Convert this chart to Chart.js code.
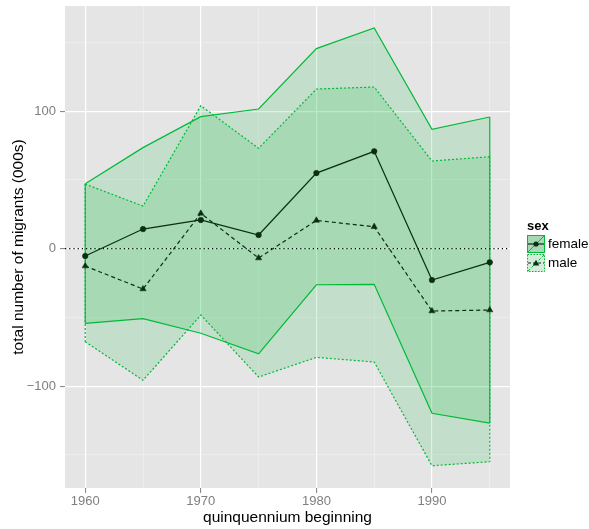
<!DOCTYPE html>
<html>
<head>
<meta charset="utf-8">
<script src="https://cdn.jsdelivr.net/npm/chart.js@4.4.1/dist/chart.umd.min.js"></script>
<style>
  html, body { margin:0; padding:0; background:#fff; }
  #c { display:block; }
</style>
</head>
<body>
<canvas id="c" width="589" height="529"></canvas>
<script>
const years = [1960, 1965, 1970, 1975, 1980, 1985, 1990, 1995];

const femaleMean  = [-5.3, 14.3, 20.9, 10.0, 55.0, 70.8, -22.8, -9.9];
const femaleUpper = [47.3, 73.5, 96.0, 101.6, 145.5, 160.5, 86.8, 95.8];
const femaleLower = [-54.3, -50.9, -61.5, -76.4, -26.2, -25.9, -119.7, -126.8];

const maleMean  = [-12.6, -29.3, 25.7, -6.8, 20.6, 16.0, -45.3, -44.6];
const maleUpper = [47.0, 31.0, 104.0, 73.0, 116.1, 117.6, 63.8, 66.9];
const maleLower = [-67.6, -95.7, -48.2, -93.3, -79.0, -82.4, -157.8, -154.9];

const xTicks = [1960, 1965, 1970, 1975, 1980, 1985, 1990, 1995];
const yTicks = [-150, -100, -50, 0, 50, 100, 150];
const xLimits = [1958.25, 1996.75];
const yLimits = [-174, 176.5];

const GREEN = "#00BA38";
const RIBBON = "rgba(0,186,56,0.15)";
const DARK = "#0a2e14";
const FONT = "'Liberation Sans', Arial, sans-serif";

const pts = (ys) => years.map((x, i) => ({ x, y: ys[i] }));
const edge = (i, up, lo) => [{ x: years[i], y: up[i] }, { x: years[i], y: lo[i] }];
const last = years.length - 1;

function bound(data, dash, fill) {
  return {
    data, borderColor: GREEN, borderWidth: 1.2, borderDash: dash,
    pointRadius: 0, tension: 0, fill: fill ? "+1" : false,
    backgroundColor: RIBBON, order: 10
  };
}
function edgeLine(data, dash) {
  return { data, borderColor: GREEN, borderWidth: 1.2, borderDash: dash, pointRadius: 0, fill: false, order: 9 };
}

const bgPlugin = {
  id: "panelBg",
  beforeDraw(chart) {
    const { ctx, chartArea: a } = chart;
    ctx.save();
    ctx.fillStyle = "#E5E5E5";
    ctx.fillRect(a.left, a.top, a.right - a.left, a.bottom - a.top);
    ctx.restore();
  }
};

const legendPlugin = {
  id: "sexLegend",
  afterDraw(chart) {
    const ctx = chart.ctx;
    ctx.save();
    ctx.fillStyle = "#000";
    ctx.font = "bold 13px " + FONT;
    ctx.textBaseline = "alphabetic";
    ctx.fillText("sex", 527, 230);
    const keys = [
      { label: "female", y: 235, fill: "#a6d8b3", dash: [], lineDash: [], shape: "circle" },
      { label: "male", y: 254, fill: "#d3ecd9", dash: [1.5, 1.5], lineDash: [3, 2], shape: "triangle" }
    ];
    keys.forEach(k => {
      const x = 527, s = 18, cy = k.y + s / 2;
      ctx.fillStyle = k.fill;
      ctx.fillRect(x, k.y, s, s);
      ctx.strokeStyle = GREEN;
      ctx.lineWidth = 1;
      ctx.setLineDash(k.dash);
      ctx.strokeRect(x + 0.5, k.y + 0.5, s - 1, s - 1);
      ctx.setLineDash(k.dash.length ? [3, 2] : []);
      ctx.beginPath();
      ctx.moveTo(x + 1, k.y + s - 1);
      ctx.lineTo(x + s - 1, k.y + 1);
      ctx.stroke();
      ctx.strokeStyle = DARK;
      ctx.lineWidth = 1.2;
      ctx.setLineDash(k.lineDash);
      ctx.beginPath();
      ctx.moveTo(x + 1, cy);
      ctx.lineTo(x + s - 1, cy);
      ctx.stroke();
      ctx.setLineDash([]);
      ctx.fillStyle = DARK;
      ctx.beginPath();
      if (k.shape === "circle") {
        ctx.arc(x + s / 2, cy, 2.6, 0, Math.PI * 2);
      } else {
        ctx.moveTo(x + s / 2, cy - 3.2);
        ctx.lineTo(x + s / 2 + 3.2, cy + 2.4);
        ctx.lineTo(x + s / 2 - 3.2, cy + 2.4);
        ctx.closePath();
      }
      ctx.fill();
      ctx.fillStyle = "#000";
      ctx.font = "13.5px " + FONT;
      ctx.textBaseline = "middle";
      ctx.fillText(k.label, 548, cy);
    });
    ctx.restore();
  }
};

const isMajorX = (v) => v % 10 === 0;
const isMajorY = (v) => v % 100 === 0;

new Chart(document.getElementById("c"), {
  type: "line",
  data: {
    datasets: [
      // female ribbon
      bound(pts(femaleUpper), [], true),
      bound(pts(femaleLower), [], false),
      edgeLine(edge(0, femaleUpper, femaleLower), []),
      edgeLine(edge(last, femaleUpper, femaleLower), []),
      // male ribbon
      { ...bound(pts(maleUpper), [2, 2], true), order: 8 },
      { ...bound(pts(maleLower), [2, 2], false), order: 8 },
      { ...edgeLine(edge(0, maleUpper, maleLower), [2, 2]), order: 7 },
      { ...edgeLine(edge(last, maleUpper, maleLower), [2, 2]), order: 7 },
      // zero reference
      {
        data: [{ x: xLimits[0], y: 0 }, { x: xLimits[1], y: 0 }],
        borderColor: "#000", borderWidth: 1.2, borderDash: [1.2, 3],
        pointRadius: 0, fill: false, order: 5
      },
      // means
      {
        label: "male", data: pts(maleMean), borderColor: DARK, borderWidth: 1.2,
        borderDash: [4, 3], pointStyle: "triangle", pointRadius: 3.6,
        pointBackgroundColor: DARK, pointBorderColor: DARK, pointBorderWidth: 0.5,
        fill: false, order: 2
      },
      {
        label: "female", data: pts(femaleMean), borderColor: DARK, borderWidth: 1.2,
        pointStyle: "circle", pointRadius: 2.8,
        pointBackgroundColor: DARK, pointBorderColor: DARK, pointBorderWidth: 0.5,
        fill: false, order: 1
      }
    ]
  },
  options: {
    responsive: false,
    animation: false,
    layout: { padding: { top: 6, right: 79, bottom: 0, left: 0 } },
    plugins: { legend: { display: false }, tooltip: { enabled: false } },
    scales: {
      x: {
        type: "linear", min: xLimits[0], max: xLimits[1],
        afterBuildTicks: (s) => { s.ticks = xTicks.map(v => ({ value: v })); },
        afterFit: (s) => { s.height = 41; s.paddingLeft = 0; s.paddingRight = 0; },
        border: { display: false },
        grid: {
          color: (c) => isMajorX(c.tick.value) ? "#ffffff" : "#f2f2f2",
          lineWidth: (c) => isMajorX(c.tick.value) ? 1.2 : 0.6,
          tickColor: (c) => isMajorX(c.tick.value) ? "#7f7f7f" : "rgba(0,0,0,0)",
          tickLength: 5, tickWidth: 1
        },
        ticks: {
          autoSkip: false, maxRotation: 0, padding: 1, color: "#7f7f7f",
          font: { family: FONT, size: 13 },
          callback: (v) => isMajorX(v) ? String(v) : ""
        },
        title: {
          display: true, text: "quinquennium beginning", color: "#000",
          font: { family: FONT, size: 15.5 }, padding: { top: 0, bottom: 2 }
        }
      },
      y: {
        type: "linear", min: yLimits[0], max: yLimits[1],
        afterBuildTicks: (s) => { s.ticks = yTicks.map(v => ({ value: v })); },
        afterFit: (s) => { s.width = 65; s.paddingTop = 0; s.paddingBottom = 0; },
        border: { display: false },
        grid: {
          color: (c) => isMajorY(c.tick.value) ? "#ffffff" : "#f2f2f2",
          lineWidth: (c) => isMajorY(c.tick.value) ? 1.2 : 0.6,
          tickColor: (c) => isMajorY(c.tick.value) ? "#7f7f7f" : "rgba(0,0,0,0)",
          tickLength: 5, tickWidth: 1
        },
        ticks: {
          autoSkip: false, padding: 4, color: "#7f7f7f",
          font: { family: FONT, size: 13 },
          callback: (v) => isMajorY(v) ? String(v).replace("-", "\u2212") : ""
        },
        title: {
          display: true, text: "total number of migrants (000s)", color: "#000",
          font: { family: FONT, size: 15.5 }, padding: { top: 9, bottom: 0 }
        }
      }
    }
  },
  plugins: [bgPlugin, legendPlugin]
});
</script>
</body>
</html>
